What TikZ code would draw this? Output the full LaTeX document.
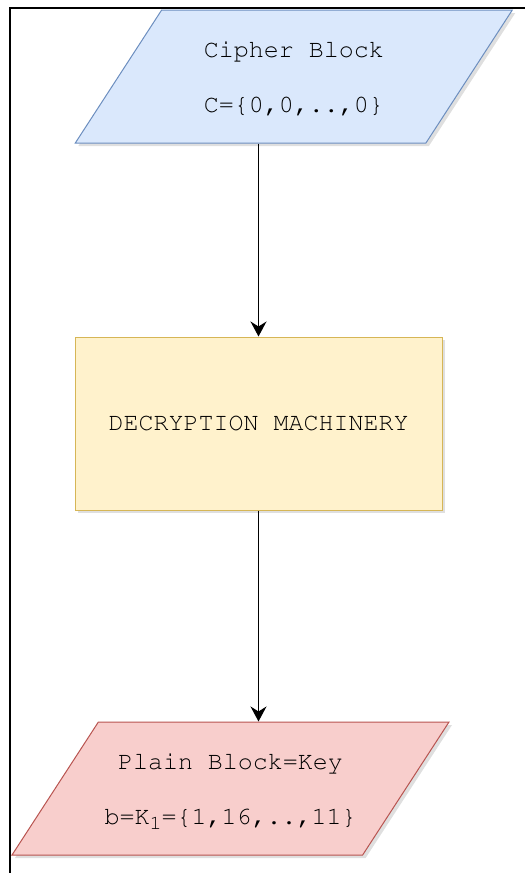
\documentclass[tikz,border=0pt]{standalone}
\usepackage[T1]{fontenc}
\usepackage{courier}
\usepackage{xcolor}
\usepackage{tikz}
\usetikzlibrary{shapes,shapes.geometric}
\usetikzlibrary{calc,arrows.meta,shadows,positioning}

\definecolor{cipherfill}{HTML}{DAE8FC}
\definecolor{cipherline}{HTML}{6C8EBF}
\definecolor{machfill}{HTML}{FFF2CC}
\definecolor{machline}{HTML}{D6B656}
\definecolor{plainfill}{HTML}{F8CECC}
\definecolor{plainline}{HTML}{B85450}

\begin{document}
\begin{tikzpicture}[
		font=\ttfamily\fontsize{12.5}{27.5}\selectfont,
		iobox/.style={trapezium,trapezium left angle=57,trapezium right angle=123,
			trapezium stretches body,text height=51.25pt,text depth=15.25pt,
			minimum width=218.5pt,inner sep=0pt,align=center,line width=0.5pt,
			drop shadow={shadow xshift=1.5pt,shadow yshift=-1.5pt,opacity=0.25}},
		machbox/.style={rectangle,draw=machline,fill=machfill,minimum width=183.5pt,
			minimum height=86.5pt,inner sep=0pt,line width=0.5pt,
			drop shadow={shadow xshift=1.5pt,shadow yshift=-1.5pt,opacity=0.25}},
		flow/.style={-{Stealth[length=7.5pt,width=8pt,inset=2.5pt]},line width=0.8pt}]
		\useasboundingbox (0,0) rectangle (262.5pt,-436.5pt);
		% frame
		\draw[line width=1pt] (5pt,-436.5pt) |- (262.5pt,-4pt);
		\node[iobox,draw=cipherline,fill=cipherfill] (cipher) at (146.9pt,-38.25pt)
			{Cipher Block\\C=\{0,0,..,0\}};
		\node[machbox] (mach) at (129.25pt,-211.75pt) {DECRYPTION MACHINERY};
		\node[iobox,draw=plainline,fill=plainfill] (plain) at (115.25pt,-394.25pt)
			{Plain Block=Key\\b=K\raisebox{-2.5pt}{\fontsize{10}{10}\selectfont 1}=\{1,16,..,11\}};
		\draw[flow] (mach.north |- cipher.south) -- (mach.north);
		\draw[flow] (mach.south) -- (mach.south |- plain.north);
\end{tikzpicture}
\end{document}
